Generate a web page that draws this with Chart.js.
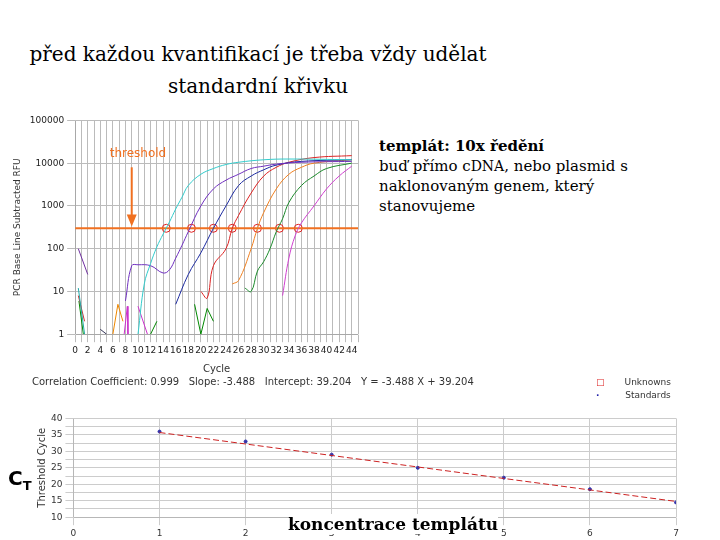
<!DOCTYPE html>
<html><head><meta charset="utf-8">
<script src="https://cdn.jsdelivr.net/npm/chart.js@4/dist/chart.umd.min.js"></script>
<style>
body{margin:0;width:720px;height:540px;background:#fff;position:relative;overflow:hidden;font-family:"DejaVu Serif",serif}
.abs{position:absolute}
</style></head><body>
<div class="abs" style="left:0;width:516px;top:38px;text-align:center;font-size:20px;line-height:32px;white-space:nowrap;font-family:'DejaVu Serif'">před každou kvantifikací je třeba vždy udělat<br>standardní křivku</div>
<div class="abs" style="left:379px;top:136px;font-size:15px;line-height:20px;font-family:'DejaVu Serif'"><b>templát: 10x ředění</b><br>buď přímo c<span style="font-size:14px">DNA</span>, nebo plasmid s<br>naklonovaným genem, který<br>stanovujeme</div>
<div class="abs" style="left:0;top:112px;width:370px;height:267px"><canvas id="c1"></canvas></div>
<div class="abs" style="left:32px;top:376px;font-size:10px;font-family:'DejaVu Sans';color:#333">Correlation Coefficient: 0.999 &nbsp; Slope: -3.488 &nbsp; Intercept: 39.204 &nbsp; Y = -3.488 X + 39.204</div>
<div class="abs" style="left:596px;top:376px;font-size:9px;font-family:'DejaVu Sans';color:#333;line-height:13px"><span style="color:#d22;font-weight:bold">□</span>&nbsp;&nbsp;&nbsp;&nbsp;&nbsp;&nbsp;&nbsp;Unknowns<br><span style="color:#22a;font-weight:bold">·</span>&nbsp;&nbsp;&nbsp;&nbsp;&nbsp;&nbsp;&nbsp;&nbsp;&nbsp;Standards</div>
<div class="abs" style="left:0;top:410px;width:720px;height:132px"><canvas id="c2"></canvas></div>
<div class="abs" style="left:8px;top:466px;font-size:20px;font-weight:bold;font-family:'DejaVu Sans'">C<sub style="font-size:13px">T</sub></div>
<div class="abs" style="left:288px;top:514px;font-size:17px;font-weight:bold;font-family:'DejaVu Serif';background:#fff;line-height:20px">koncentrace templátu</div>
<script>
const threshold = 300;
const crossings = [14.5, 18.5, 22, 25, 29, 32.5, 35.5];
const cyanCurve = [[10,1],[11,15],[12,45],[13,110],[14,220],[15,420],[16,850],[17,1600],[18,3000],[20,5500],[22,7500],[24,9300],[26,10500],[30,12000],[34,12500],[44,12000]];
const purpleCurve = [[8,6],[9,40],[10,42],[12,40],[14,27],[15,32],[16,60],[17,120],[18,250],[20,1000],[22,2500],[24,4000],[26,5500],[28,7500],[30,8500],[32,9500],[36,10500],[44,11000]];
const navyCurve = [[16,5],[18,25],[20,80],[22,300],[24,1000],[26,3000],[28,5000],[30,7000],[32,9000],[36,11000],[44,12000]];
const redCurve = [[20,10],[21,7],[22,40],[24,100],[25,300],[26,600],[28,2000],[30,5000],[32,8000],[34,10500],[38,13500],[44,15000]];
const orangeCurve = [[25,15],[26,18],[28,100],[29,300],[30,700],[32,2500],[34,5500],[36,8000],[38,10000],[44,12000]];
const greenCurve = [[27,12],[28,10],[29,30],[30,50],[31,100],[32,250],[33,500],[34,1200],[36,3000],[38,5000],[40,7500],[44,10000]];
const magentaCurve = [[33,8],[34,60],[35,200],[36,400],[38,1000],[40,2500],[42,5000],[44,8500]];
const noise = [
 {c:'#7030a0',p:[[0.5,100],[2,25]]},{c:'#2aa',p:[[0.5,12],[1.5,1]]},{c:'#c33',p:[[0.5,8],[1.5,2]]},
 {c:'#080',p:[[0.6,6],[1.3,1]]},{c:'#e80',p:[[6,1],[6.8,5],[7.6,2]]},{c:'#c3c',p:[[7.8,1],[8.3,4.5],[8.4,1]]},
 {c:'#c3c',p:[[10,4.5],[11.5,1]]},{c:'#080',p:[[12,1],[13,2]]},{c:'#080',p:[[19,5],[20,1],[21,4],[22,2]]},{c:'#335',p:[[4,1.3],[5,1]]}
];
const ctStd = [[1,36],[2,33],[3,29],[4,25],[5,22],[6,18.5],[7,14.5]];
const slope = -3.488, intercept = 39.204;

const toXY = a => a.map(p=>({x:p[0],y:p[1]}));
const curves = [[cyanCurve,'#3cc'],[purpleCurve,'#7030c0'],[navyCurve,'#1c2aa0'],[redCurve,'#d22'],[orangeCurve,'#f08020'],[greenCurve,'#1a8a2a'],[magentaCurve,'#d040d0']];
const ds = curves.map(([d,c])=>({data:toXY(d),borderColor:c,borderWidth:1,pointRadius:0,tension:0.4}));
noise.forEach(n=>ds.push({data:toXY(n.p),borderColor:n.c,borderWidth:1,pointRadius:0}));
ds.push({data:[{x:0,y:threshold},{x:45,y:threshold}],borderColor:'#f07020',borderWidth:2,pointRadius:0});
ds.push({data:crossings.map(x=>({x,y:threshold})),showLine:false,pointRadius:4,pointBorderColor:'#e02020',pointBackgroundColor:'rgba(0,0,0,0)',pointBorderWidth:1});
const arrow = {id:'arrow',afterDatasetsDraw(ch){const {ctx,scales:{x,y}}=ch;const px=x.getPixelForValue(9);
 ctx.save();ctx.strokeStyle='#f07020';ctx.fillStyle='#f07020';ctx.lineWidth=2;ctx.beginPath();ctx.moveTo(px,y.getPixelForValue(8000));ctx.lineTo(px,y.getPixelForValue(450));ctx.stroke();
 const ty=y.getPixelForValue(330);ctx.beginPath();ctx.moveTo(px-5,ty-12);ctx.lineTo(px+5,ty-12);ctx.lineTo(px,ty);ctx.fill();
 ctx.font='12px "DejaVu Sans"';ctx.textAlign='left';ctx.fillText('threshold',x.getPixelForValue(5.5),y.getPixelForValue(14000));ctx.restore();}};
new Chart(document.getElementById('c1'),{type:'line',data:{datasets:ds},plugins:[arrow],
 options:{responsive:true,maintainAspectRatio:false,animation:false,plugins:{legend:{display:false},tooltip:{enabled:false}},
 layout:{padding:{left:8,right:12,top:4}},
 scales:{x:{type:'linear',min:0,max:45,ticks:{stepSize:1,autoSkip:false,maxRotation:0,font:{size:9,family:'DejaVu Sans'},color:'#222',callback:v=>(v%2===0&&v<=44)?v:''},grid:{color:'#bbb'},title:{display:true,text:'Cycle',font:{size:10,family:'DejaVu Sans'},color:'#333'}},
  y:{type:'logarithmic',min:1,max:100000,ticks:{font:{size:9,family:'DejaVu Sans'},color:'#222',callback:v=>[1,10,100,1000,10000,100000].includes(v)?v:null},grid:{color:'#bbb'},afterBuildTicks:s=>{s.ticks=[1,10,100,1000,10000,100000].map(v=>({value:v}))},title:{display:true,text:'PCR Base Line Subtracted RFU',font:{size:9,family:'DejaVu Sans'},color:'#333'}}}}});

new Chart(document.getElementById('c2'),{type:'scatter',data:{datasets:[
 {data:[{x:1,y:slope+intercept},{x:7,y:7*slope+intercept}],showLine:true,borderColor:'#c22',borderWidth:1,borderDash:[6,3],pointRadius:0},
 {data:toXY(ctStd),pointRadius:1.5,pointBackgroundColor:'#33a',pointBorderColor:'#33a'}]},
 options:{responsive:true,maintainAspectRatio:false,animation:false,plugins:{legend:{display:false},tooltip:{enabled:false}},
 layout:{padding:{left:36,right:44,top:4}},
 scales:{x:{min:0,max:7,ticks:{stepSize:1,font:{size:9,family:'DejaVu Sans'},color:'#333'},grid:{color:'#ccc'}},
  y:{min:10,max:40,ticks:{stepSize:2.5,autoSkip:false,font:{size:9,family:'DejaVu Sans'},color:'#333',callback:v=>v%5===0?v:''},grid:{color:'#ccc'},title:{display:true,text:'Threshold Cycle',font:{size:10,family:'DejaVu Sans'},color:'#333',padding:0}}}}});
</script></body></html>
